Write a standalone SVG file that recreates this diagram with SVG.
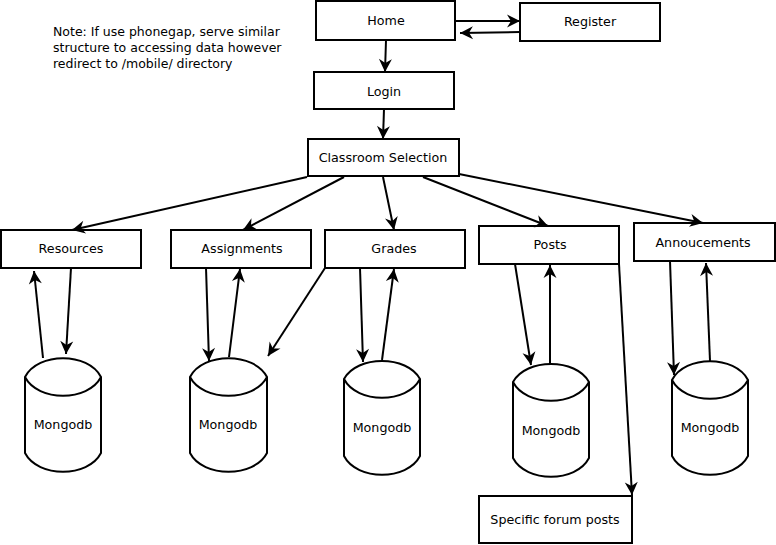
<svg xmlns="http://www.w3.org/2000/svg" width="776" height="545" viewBox="0 0 776 545">
<style>
.box{fill:#fff;stroke:#000;stroke-width:2}
.db{fill:#fff;stroke:#000;stroke-width:2;stroke-linejoin:round}
.lbl{font-family:"DejaVu Sans",sans-serif;font-size:12.7px;fill:#000;text-anchor:middle}
.note{font-family:"DejaVu Sans",sans-serif;font-size:12.5px;fill:#000}
.c line{stroke:#000;stroke-width:2;marker-end:url(#ah)}
</style>
<defs>
<marker id="ah" markerUnits="userSpaceOnUse" viewBox="-14 -7 15 14" markerWidth="15" markerHeight="14" refX="0" refY="0" orient="auto">
<path d="M0,0 L-13,-6.5 L-9,0 L-13,6.5 Z" fill="#000"/>
</marker>
</defs>
<rect width="776" height="545" fill="#fff"/>
<g id="note">
<text class="note" x="53" y="35.5">Note: If use phonegap, serve similar</text>
<text class="note" x="53" y="51.5">structure to accessing data however</text>
<text class="note" x="53" y="67.5">redirect to /mobile/ directory</text>
</g>
<g id="home"><rect class="box" x="316" y="1" width="139" height="39"/><text class="lbl" x="386" y="25">Home</text></g>
<g id="register"><rect class="box" x="520" y="3" width="140" height="38"/><text class="lbl" x="590" y="25.5">Register</text></g>
<g id="login"><rect class="box" x="314" y="72" width="140" height="37"/><text class="lbl" x="384" y="96">Login</text></g>
<g id="classroom"><rect class="box" x="308" y="139" width="151" height="37"/><text class="lbl" x="383" y="162">Classroom Selection</text></g>
<g id="resources"><rect class="box" x="1" y="230" width="140" height="38"/><text class="lbl" x="71" y="253">Resources</text></g>
<g id="assignments"><rect class="box" x="171" y="230" width="140" height="38"/><text class="lbl" x="242" y="253">Assignments</text></g>
<g id="grades"><rect class="box" x="325" y="230" width="140" height="38"/><text class="lbl" x="394" y="253">Grades</text></g>
<g id="posts"><rect class="box" x="479" y="226" width="140" height="38"/><text class="lbl" x="550" y="249">Posts</text></g>
<g id="annoucements"><rect class="box" x="634" y="223" width="141" height="38"/><text class="lbl" x="703" y="247">Annoucements</text></g>
<g id="forum"><rect class="box" x="479" y="496" width="153" height="47"/><text class="lbl" x="555" y="524">Specific forum posts</text></g>
<g id="db1"><path class="db" d="M25,377 C38,352 88,352 101,377 L101,453 C88,478 38,478 25,453 Z M25,377 C38,402 88,402 101,377"/><text class="lbl" x="63" y="428.5">Mongodb</text></g>
<g id="db2"><path class="db" d="M190,377 C203,352 254,352 267,377 L267,453 C254,478 203,478 190,453 Z M190,377 C203,402 254,402 267,377"/><text class="lbl" x="228" y="428.5">Mongodb</text></g>
<g id="db3"><path class="db" d="M344,379 C357,355 407,355 420,379 L420,456 C407,481 357,481 344,456 Z M344,379 C357,404 407,404 420,379"/><text class="lbl" x="382" y="431.5">Mongodb</text></g>
<g id="db4"><path class="db" d="M513,382 C526,358 576,358 589,382 L589,458 C576,483 526,483 513,458 Z M513,382 C526,407 576,407 589,382"/><text class="lbl" x="551" y="434.5">Mongodb</text></g>
<g id="db5"><path class="db" d="M672,380 C685,355 735,355 748,380 L748,456 C735,481 685,481 672,456 Z M672,380 C685,405 735,405 748,380"/><text class="lbl" x="710" y="431.5">Mongodb</text></g>
<g class="c" id="connectors">
<line x1="455" y1="21" x2="520" y2="21"/>
<line x1="520" y1="32" x2="460" y2="33"/>
<line x1="386" y1="40" x2="385" y2="72"/>
<line x1="384" y1="109" x2="383" y2="139"/>
<line x1="307" y1="177" x2="72" y2="230"/>
<line x1="344" y1="177" x2="243" y2="230"/>
<line x1="383" y1="177" x2="394" y2="230"/>
<line x1="423" y1="177" x2="548" y2="226"/>
<line x1="459" y1="174" x2="703" y2="223"/>
<line x1="43" y1="358" x2="34" y2="271"/>
<line x1="71" y1="268" x2="66" y2="354"/>
<line x1="206" y1="268" x2="209" y2="361"/>
<line x1="229" y1="357" x2="240" y2="269"/>
<line x1="325" y1="268" x2="268" y2="356"/>
<line x1="360" y1="268" x2="363" y2="362"/>
<line x1="382" y1="360" x2="394" y2="269"/>
<line x1="515" y1="264" x2="531" y2="365"/>
<line x1="550" y1="364" x2="550" y2="265"/>
<line x1="619" y1="264" x2="632" y2="495"/>
<line x1="670" y1="261" x2="674" y2="375"/>
<line x1="710" y1="361" x2="706" y2="263"/>
</g>
</svg>
